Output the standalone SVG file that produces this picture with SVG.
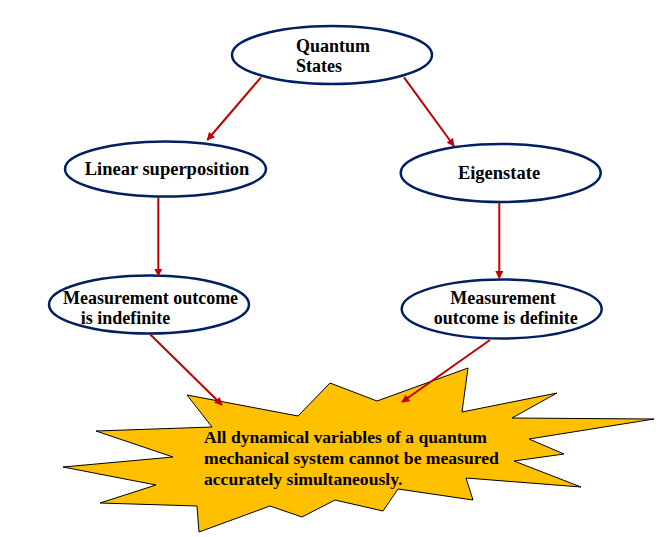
<svg xmlns="http://www.w3.org/2000/svg" width="664" height="537" viewBox="0 0 664 537">
<defs>
<marker id="ah" viewBox="0 0 10 10" refX="9" refY="5" markerWidth="8" markerHeight="8" markerUnits="userSpaceOnUse" orient="auto">
<path d="M0,0 L10,5 L0,10 z" fill="#C00000"/>
</marker>
<style>
.node ellipse{fill:#fff;stroke:#002060;stroke-width:2.5}
.t{font-family:"Liberation Serif","Times New Roman",serif;font-weight:bold;font-size:18.5px;fill:#000}
.t2{font-family:"Liberation Serif","Times New Roman",serif;font-weight:bold;font-size:18px;fill:#000}
.st{font-family:"Liberation Serif","Times New Roman",serif;font-weight:bold;font-size:17.6px;fill:#000}
.conn line{stroke:#C00000;stroke-width:2;marker-end:url(#ah)}
</style>
</defs>
<rect width="664" height="537" fill="#fff"/>
<g id="star">
<polygon points="187,395 298,416 330,383 377,401 468,368 462,412 557,393 512,418 654,419 529,439 564,454 514,461 581,487 466,478 473,500 398,489 383,511 335,500 302,517 270,506 199,532 197,506 100,503 156,485 63,467 173,457 96,431 212,427" fill="#FFC000" stroke="#000" stroke-width="1"/>
<text class="st" x="204" y="443">All dynamical variables of a quantum</text>
<text class="st" x="204" y="464">mechanical system cannot be measured</text>
<text class="st" x="204" y="485">accurately simultaneously.</text>
</g>
<g id="quantum-states" class="node">
<ellipse cx="332" cy="55" rx="100" ry="29"/>
<text class="t2" x="296" y="51.5">Quantum</text>
<text class="t2" x="296" y="71.5">States</text>
</g>
<g id="linear-superposition" class="node">
<ellipse cx="165.5" cy="169" rx="100.5" ry="27.5"/>
<text class="t" x="167" y="175" text-anchor="middle">Linear superposition</text>
</g>
<g id="eigenstate" class="node">
<ellipse cx="500.7" cy="173" rx="100" ry="29"/>
<text class="t" x="499" y="178.5" text-anchor="middle">Eigenstate</text>
</g>
<g id="outcome-indefinite" class="node">
<ellipse cx="149" cy="304.5" rx="100" ry="29"/>
<text class="t2" x="63" y="304">Measurement outcome</text>
<text class="t2" x="80.7" y="324">is indefinite</text>
</g>
<g id="outcome-definite" class="node">
<ellipse cx="501.7" cy="309" rx="100" ry="29.5"/>
<text class="t2" x="503" y="303.5" text-anchor="middle">Measurement</text>
<text class="t2" x="505.7" y="323.5" text-anchor="middle">outcome is definite</text>
</g>
<g id="connectors" class="conn">
<line x1="261" y1="77.3" x2="207.3" y2="140"/>
<line x1="404" y1="77.3" x2="454" y2="146"/>
<line x1="158.3" y1="197.3" x2="158.3" y2="276"/>
<line x1="499.3" y1="202.3" x2="499.3" y2="278.3"/>
<line x1="150" y1="334.3" x2="222" y2="405"/>
<line x1="490" y1="340" x2="402" y2="402"/>
</g>
</svg>
